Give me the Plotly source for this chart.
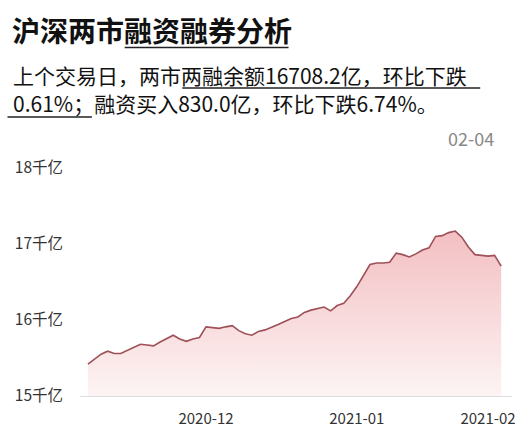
import pandas as pd
import plotly.graph_objects as go

# ---- data ----
dates = [d.strftime("%Y-%m-%d") for d in pd.bdate_range("2020-11-05", "2021-02-04")
         if d.strftime("%Y-%m-%d") != "2021-01-01"]
balance = [15.42, 15.48, 15.55, 15.59, 15.56, 15.56, 15.60, 15.64, 15.68, 15.67,
           15.66, 15.71, 15.76, 15.80, 15.75, 15.72, 15.75, 15.77, 15.91, 15.90,
           15.89, 15.91, 15.925, 15.86, 15.82, 15.80, 15.85, 15.87, 15.90, 15.94,
           15.98, 16.02, 16.04, 16.10, 16.13, 16.15, 16.17, 16.12, 16.19, 16.22,
           16.32, 16.44, 16.59, 16.73, 16.75, 16.75, 16.76, 16.88, 16.86, 16.83,
           16.87, 16.92, 16.95, 17.10, 17.11, 17.15, 17.17, 17.09, 16.96, 16.86,
           16.85, 16.84, 16.85, 16.708]
tick_dates = ["2020-12-01", "2021-01-04", "2021-02-01"]
tick_text = ["2020-12", "2021-01", "2021-02"]
y_ticks = [15, 16, 17, 18]
y_text = ["15千亿", "16千亿", "17千亿", "18千亿"]

title = "沪深两市融资融券分析"
line1 = "上个交易日，两市两融余额16708.2亿，环比下跌"
line2 = "0.61%；融资买入830.0亿，环比下跌6.74%。"
date_label = "02-04"

W, H = 520, 438
L, R, T, B = 80, 5, 168, 42
FONT = "Noto Sans CJK SC"


def px(x):
    return (x - L) / (W - L - R)


def py(y):
    return (H - B - y) / (H - T - B)


fig = go.Figure()
fig.add_trace(go.Scatter(
    x=dates, y=balance, mode="lines",
    line=dict(color="#9e4f57", width=1.6),
    fill="tozeroy",
    fillgradient=dict(type="vertical", start=15, stop=17.2,
                      colorscale=[[0, "rgb(253,244,244)"], [1, "rgb(243,190,193)"]]),
    hoverinfo="skip",
))

n = len(dates)
sp = (510.7 - 88) / (n - 1)
x0 = -(88 - L) / sp
x1 = (n - 1) + (W - R - 510.7) / sp

fig.update_layout(
    width=W, height=H,
    margin=dict(l=L, r=R, t=T, b=B),
    paper_bgcolor="white", plot_bgcolor="white",
    showlegend=False,
    font=dict(family=FONT, color="#222"),
    xaxis=dict(type="category", range=[x0, x1], tickvals=tick_dates, ticktext=tick_text,
               showgrid=False, zeroline=False, showline=True, linecolor="#dddddd",
               linewidth=1, ticks="", tickfont=dict(size=15, color="#333"),
               ticklabelstandoff=9),
    yaxis=dict(range=[15, 18], tickvals=y_ticks, ticktext=y_text, showgrid=False,
               zeroline=False, showline=False, ticks="",
               tickfont=dict(size=15.5, color="#333"), ticklabelstandoff=16),
)

ann = [
    dict(text=title, x=px(10), y=py(30), font=dict(size=28, color="#111", weight="bold")),
    dict(text=line1, x=px(11), y=py(75), font=dict(size=21, color="#111")),
    dict(text=line2, x=px(11), y=py(103), font=dict(size=21, color="#111")),
]
for a in ann:
    fig.add_annotation(xref="paper", yref="paper", xanchor="left", yanchor="middle",
                       showarrow=False, **a)
fig.add_annotation(xref="paper", yref="paper", xanchor="right", yanchor="middle",
                   x=px(499), y=py(138), text=date_label, showarrow=False,
                   font=dict(size=18, color="#888"))

for (xa, xb, yy) in [(125, 290, 47.5), (183, 483, 88), (7, 92, 117)]:
    fig.add_shape(type="line", xref="paper", yref="paper",
                  x0=px(xa), x1=px(xb), y0=py(yy), y1=py(yy),
                  line=dict(color="#222", width=1.5))

fig.write_html("out.html")
